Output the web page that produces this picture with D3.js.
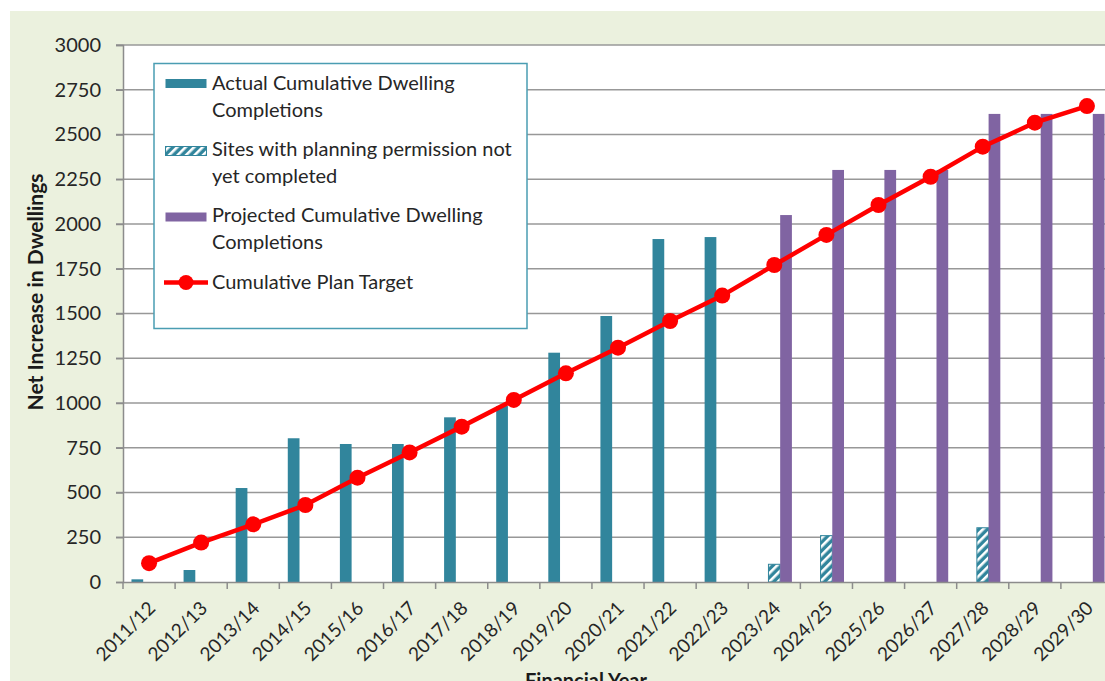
<!DOCTYPE html>
<html>
<head>
<meta charset="utf-8">
<script src="https://cdn.jsdelivr.net/npm/d3@7"></script>
<style>
  body { margin: 0; background: #fff; }
  svg { display: block; font-family: Lato, "Open Sans", sans-serif; }
</style>
</head>
<body>
<div id="chart"></div>
<script>
var years = ['2011/12', '2012/13', '2013/14', '2014/15', '2015/16', '2016/17', '2017/18',
    '2018/19', '2019/20', '2020/21', '2021/22', '2022/23', '2023/24', '2024/25',
    '2025/26', '2026/27', '2027/28', '2028/29', '2029/30'];

// null = no bar that year
var actual = [15, 67, 525, 803, 771, 771, 920, 983, 1281, 1486, 1916, 1927,
    null, null, null, null, null, null, null];
var permission = [null, null, null, null, null, null, null, null, null, null, null, null,
    99, 259, null, null, 303, null, null];
var projected = [null, null, null, null, null, null, null, null, null, null, null, null,
    2050, 2302, 2302, 2302, 2615, 2615, 2615];
var target = [105, 220, 322, 430, 583, 724, 868, 1017, 1166, 1309, 1458, 1600,
    1771, 1939, 2106, 2264, 2432, 2566, 2659];

var yTicks = [0, 250, 500, 750, 1000, 1250, 1500, 1750, 2000, 2250, 2500, 2750, 3000];

var width = 1105,
    height = 681;

var teal = '#31859c',
    purple = '#8064a2',
    red = '#ff0000';

var svg = d3.select('#chart')
    .append('svg')
    .attr('width', width)
    .attr('height', height);

var defs = svg.append('defs');
var pat = defs.append('pattern')
    .attr('id', 'hatch')
    .attr('patternUnits', 'userSpaceOnUse')
    .attr('width', 6)
    .attr('height', 6)
    .attr('patternTransform', 'rotate(45)');
pat.append('rect').attr('width', 6).attr('height', 6).attr('fill', teal);
pat.append('rect').attr('x', 0).attr('width', 2.6).attr('height', 6).attr('fill', '#fff');

// outer chart area
svg.append('rect')
    .attr('x', 10).attr('y', 11)
    .attr('width', width - 10).attr('height', height - 11)
    .attr('fill', '#ebf1de');

var x = d3.scaleBand()
    .domain(years)
    .range([123, 1113]);

var y = d3.scaleLinear()
    .domain([0, 3000])
    .range([582, 45]);

var bw = x.bandwidth();
var barW = bw * 0.225;
var off = (bw - 3 * barW) / 2;

// plot area
svg.append('rect')
    .attr('x', 123).attr('y', y(3000))
    .attr('width', 1113 - 123).attr('height', y(0) - y(3000))
    .attr('fill', '#fff');

// gridlines
svg.append('g')
    .selectAll('line')
    .data(yTicks.filter(function(d) { return d > 0; }))
    .enter()
    .append('line')
    .attr('x1', 116).attr('x2', 1113)
    .attr('y1', function(d) { return y(d); })
    .attr('y2', function(d) { return y(d); })
    .attr('stroke', '#989898')
    .attr('stroke-width', 1.5);

// y axis
var yAxis = svg.append('g')
    .attr('transform', 'translate(123,0)')
    .call(d3.axisLeft(y).tickValues(yTicks).tickFormat(d3.format('d')).tickSize(7).tickPadding(15));
yAxis.select('.domain').attr('stroke', '#8c8c8c').attr('stroke-width', 1.5);
yAxis.selectAll('.tick line').attr('stroke', '#8c8c8c').attr('stroke-width', 1.5);
yAxis.selectAll('text')
    .attr('font-size', 20)
    .attr('font-family', 'Lato, sans-serif')
    .attr('fill', '#262626');

// bars
function drawBars(values, idx, fill, stroke) {
    svg.append('g')
        .selectAll('rect')
        .data(years.map(function(yr, i) { return {year: yr, value: values[i]}; })
            .filter(function(d) { return d.value !== null; }))
        .enter()
        .append('rect')
        .attr('x', function(d) { return x(d.year) + off + idx * barW; })
        .attr('y', function(d) { return y(d.value); })
        .attr('width', barW)
        .attr('height', function(d) { return y(0) - y(d.value); })
        .attr('fill', fill)
        .attr('stroke', stroke || 'none')
        .attr('stroke-width', 1);
}
drawBars(actual, 0, teal);
drawBars(permission, 1, 'url(#hatch)', teal);
drawBars(projected, 2, purple);

// x axis
var xAxis = svg.append('g')
    .attr('transform', 'translate(0,' + y(0) + ')')
    .call(d3.axisBottom(x).tickSize(0).tickFormat(''));
xAxis.select('.domain').attr('stroke', '#8c8c8c').attr('stroke-width', 1.5);

svg.append('g')
    .selectAll('line')
    .data(years)
    .enter()
    .append('line')
    .attr('x1', function(d) { return x(d); })
    .attr('x2', function(d) { return x(d); })
    .attr('y1', y(0)).attr('y2', y(0) + 7)
    .attr('stroke', '#8c8c8c')
    .attr('stroke-width', 1.5);

svg.append('g')
    .selectAll('text')
    .data(years)
    .enter()
    .append('text')
    .attr('transform', function(d) {
        return 'translate(' + (x(d) + bw / 2 - 2) + ',' + (y(0) + 18) + ') rotate(-45)';
    })
    .attr('text-anchor', 'end')
    .attr('dy', '0.7em')
    .attr('font-size', 19)
    .attr('fill', '#262626')
    .text(function(d) { return d; });

// target line
var line = d3.line()
    .x(function(d, i) { return x(years[i]) + bw / 2; })
    .y(function(d) { return y(d); });

svg.append('path')
    .datum(target)
    .attr('d', line)
    .attr('fill', 'none')
    .attr('stroke', red)
    .attr('stroke-width', 4.5);

svg.append('g')
    .selectAll('circle')
    .data(target)
    .enter()
    .append('circle')
    .attr('cx', function(d, i) { return x(years[i]) + bw / 2; })
    .attr('cy', function(d) { return y(d); })
    .attr('r', 8)
    .attr('fill', red);

// axis titles
svg.append('text')
    .attr('transform', 'translate(43,292) rotate(-90)')
    .attr('text-anchor', 'middle')
    .attr('font-size', 21)
    .attr('font-weight', 'bold')
    .attr('fill', '#1a1a1a')
    .text('Net Increase in Dwellings');

svg.append('text')
    .attr('x', 586)
    .attr('y', 688)
    .attr('text-anchor', 'middle')
    .attr('font-size', 20)
    .attr('font-weight', 'bold')
    .attr('fill', '#1a1a1a')
    .text('Financial Year');

// legend
var legend = svg.append('g');
legend.append('rect')
    .attr('x', 154).attr('y', 63.5)
    .attr('width', 373).attr('height', 265)
    .attr('fill', '#fff')
    .attr('stroke', '#4a9db2')
    .attr('stroke-width', 1.5);

var legendItems = [
    {lines: ['Actual Cumulative Dwelling', 'Completions'], type: 'actual', cy: 83.5, base: 90},
    {lines: ['Sites with planning permission not', 'yet completed'], type: 'permission', cy: 151, base: 156},
    {lines: ['Projected Cumulative Dwelling', 'Completions'], type: 'projected', cy: 217, base: 222},
    {lines: ['Cumulative Plan Target'], type: 'target', cy: 282.5, base: 288.5}
];

legendItems.forEach(function(it) {
    if (it.type === 'target') {
        legend.append('line')
            .attr('x1', 164).attr('x2', 208)
            .attr('y1', it.cy).attr('y2', it.cy)
            .attr('stroke', red).attr('stroke-width', 4.5);
        legend.append('circle')
            .attr('cx', 186).attr('cy', it.cy).attr('r', 7.5)
            .attr('fill', red);
    } else {
        legend.append('rect')
            .attr('x', 165.5).attr('y', it.cy - 4.5)
            .attr('width', 41).attr('height', 9)
            .attr('fill', it.type === 'actual' ? teal : it.type === 'projected' ? purple : 'url(#hatch)')
            .attr('stroke', it.type === 'permission' ? teal : 'none');
    }
    it.lines.forEach(function(t, j) {
        legend.append('text')
            .attr('x', 212)
            .attr('y', it.base + j * 26.5)
            .attr('font-size', 20)
            .attr('fill', '#262626')
            .text(t);
    });
});
</script>
</body>
</html>
